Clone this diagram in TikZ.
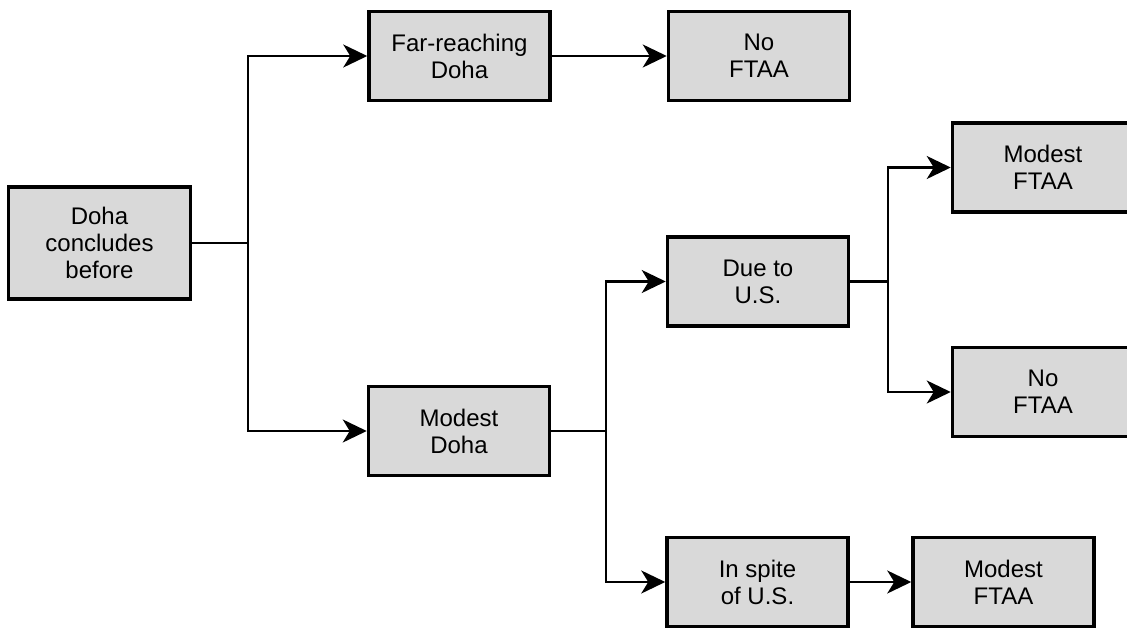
\documentclass[tikz,border=0pt]{standalone}
\usepackage{fontspec}
\setmainfont{Liberation Sans}
\usetikzlibrary{arrows.meta}
\begin{document}
\begin{tikzpicture}[x=1pt,y=-1pt,
  box/.style={draw=black, line width=3.5pt, fill=black!15, minimum width=181pt, minimum height=89pt,
    align=center, inner sep=0pt, font=\fontsize{24}{27}\selectfont},
  conn/.style={line width=2.3pt},
  arr/.style={conn, -{Stealth[length=24pt,width=23pt,inset=7pt]}}]
\useasboundingbox (0,0) rectangle (1127,629);
\node[box, minimum width=182pt, minimum height=112pt] (A) at (99.5,243) {Doha\\concludes\\before};
\node[box] (B) at (459.5,56) {Far-reaching\\Doha};
\node[box] (C) at (759,56) {No\\FTAA};
\node[box] (D) at (459,431) {Modest\\Doha};
\node[box] (E) at (758,281.5) {Due to\\U.S.};
\node[box] (F) at (1043,167.5) {Modest\\FTAA};
\node[box] (G) at (1043,392) {No\\FTAA};
\node[box] (H) at (757.5,582) {In spite\\of U.S.};
\node[box] (I) at (1003.5,582) {Modest\\FTAA};
\coordinate (j1) at (248,243);
\coordinate (j2) at (606,431);
\coordinate (j3) at (888,281.5);
\draw[conn] (A.east) -- (j1);
\draw[arr] (j1) |- (B.west);
\draw[arr] (j1) |- (D.west);
\draw[arr] (B.east) -- (C.west);
\draw[conn] (D.east) -- (j2);
\draw[arr] (j2) |- (E.west);
\draw[arr] (j2) |- (H.west);
\draw[conn] (E.east) -- (j3);
\draw[arr] (j3) |- (F.west);
\draw[arr] (j3) |- (G.west);
\draw[arr] (H.east) -- (I.west);
\end{tikzpicture}
\end{document}
